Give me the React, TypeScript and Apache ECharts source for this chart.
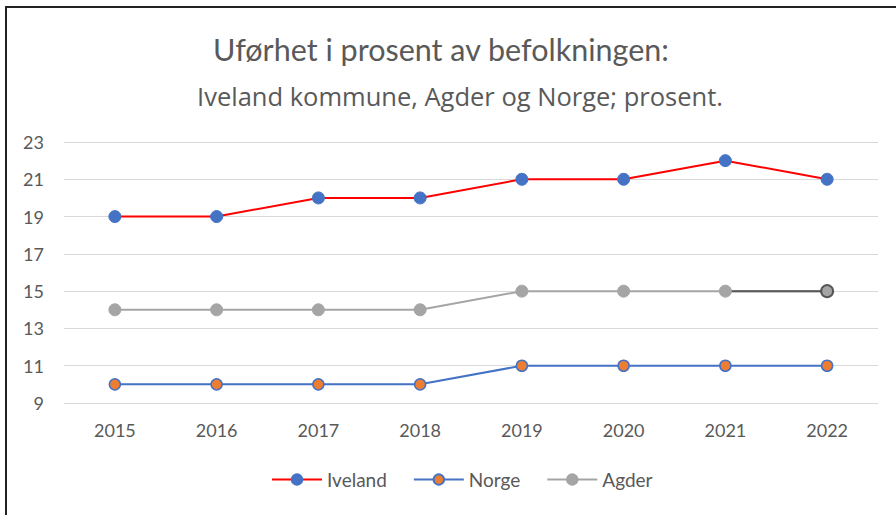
import React, { useEffect, useRef } from "react";
import * as echarts from "echarts";

const years = ["2015", "2016", "2017", "2018", "2019", "2020", "2021", "2022"];
const iveland = [19, 19, 20, 20, 21, 21, 22, 21];
const norge = [10, 10, 10, 10, 11, 11, 11, 11];
const agder = [14, 14, 14, 14, 15, 15, 15, 15];
const agderLast = [null, null, null, null, null, null, 15, 15];

const FONT = "Lato";
const TXT = "#595959";

export default function App() {
  const ref = useRef<HTMLDivElement>(null);
  useEffect(() => {
    const chart = echarts.init(ref.current!, null, { renderer: "svg" });
    chart.setOption({
      animation: false,
      backgroundColor: "#ffffff",
      title: [
        {
          text: "Uførhet i prosent av befolkningen:",
          left: 436,
          textAlign: "center",
          top: 28,
          textStyle: { fontFamily: FONT, fontSize: 30.5, fontWeight: "normal", color: TXT },
        },
        {
          text: "Iveland kommune, Agder og Norge; prosent.",
          left: 455,
          textAlign: "center",
          top: 78,
          textStyle: { fontFamily: "Open Sans", fontSize: 25.5, fontWeight: "normal", color: TXT },
        },
      ],
      graphic: [
        { type: "line", shape: { x1: 5, y1: 7, x2: 896, y2: 7 }, style: { stroke: "#222", lineWidth: 2 } },
        { type: "line", shape: { x1: 6, y1: 6, x2: 6, y2: 515 }, style: { stroke: "#222", lineWidth: 2 } },
      ],
      grid: { left: 64, right: 18, top: 142, bottom: 112, containLabel: false },
      legend: {
        data: ["Iveland", "Norge", "Agder"],
        bottom: 21,
        left: 266,
        itemWidth: 50,
        itemHeight: 13,
        itemGap: 26,
        textStyle: { fontFamily: FONT, fontSize: 19, color: TXT },
      },
      xAxis: {
        type: "category",
        data: years,
        boundaryGap: true,
        axisLine: { show: false },
        axisTick: { show: false },
        axisLabel: { fontFamily: FONT, fontSize: 18, color: TXT, margin: 18 },
      },
      yAxis: {
        type: "value",
        min: 9,
        max: 23,
        interval: 2,
        axisLine: { show: false },
        axisTick: { show: false },
        axisLabel: { fontFamily: FONT, fontSize: 18, color: TXT, margin: 20 },
        splitLine: { lineStyle: { color: "#d9d9d9", width: 1 } },
      },
      series: [
        {
          name: "Iveland",
          type: "line",
          data: iveland,
          symbol: "circle",
          symbolSize: 12,
          lineStyle: { color: "#ff0000", width: 2 },
          itemStyle: { color: "#4472c4", borderColor: "#4472c4", borderWidth: 1 },
          z: 5,
        },
        {
          name: "Norge",
          type: "line",
          data: norge,
          symbol: "circle",
          symbolSize: 11,
          lineStyle: { color: "#4472c4", width: 2 },
          itemStyle: { color: "#ed7d31", borderColor: "#4472c4", borderWidth: 1.5 },
          z: 4,
        },
        {
          name: "Agder",
          type: "line",
          data: agder,
          symbol: "circle",
          symbolSize: 12,
          lineStyle: { color: "#a5a5a5", width: 2 },
          itemStyle: { color: "#a5a5a5", borderColor: "#a5a5a5", borderWidth: 1 },
          z: 3,
        },
        {
          name: "AgderLast",
          type: "line",
          data: agderLast,
          symbol: "circle",
          symbolSize: 12,
          showSymbol: false,
          lineStyle: { color: "#595959", width: 2 },
          itemStyle: { color: "#a5a5a5", borderColor: "#595959", borderWidth: 2 },
          z: 3,
        },
        {
          name: "AgderLastMarker",
          type: "scatter",
          data: [[7, 15]],
          symbol: "circle",
          symbolSize: 12,
          itemStyle: { color: "#a5a5a5", borderColor: "#404040", borderWidth: 2 },
          z: 6,
        },
      ],
    });
    return () => chart.dispose();
  }, []);
  return <div ref={ref} style={{ width: 896, height: 515, position: "absolute", left: 0, top: 0 }} />;
}
